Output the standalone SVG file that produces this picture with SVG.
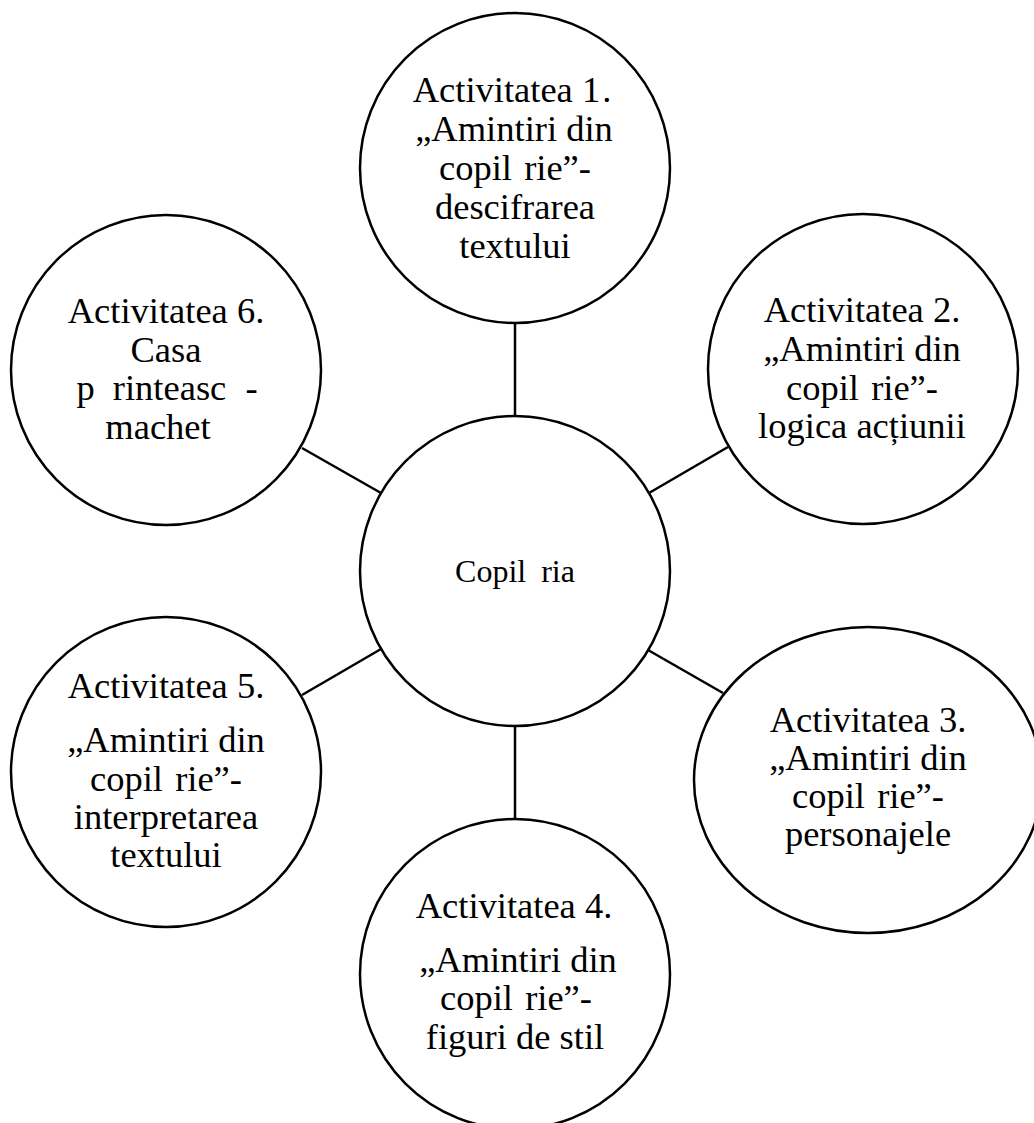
<svg xmlns="http://www.w3.org/2000/svg" width="1034" height="1123" viewBox="0 0 1034 1123">
  <style>
    .node { fill: #ffffff; stroke: #000000; stroke-width: 2.5; }
    .conn { stroke: #000000; stroke-width: 2.5; fill: none; }
    .t { font-family: "Liberation Serif", "Times New Roman", serif; font-size: 36.5px; fill: #000000; text-anchor: middle; }
    .tc { font-family: "Liberation Serif", "Times New Roman", serif; font-size: 32px; fill: #000000; text-anchor: middle; }
  </style>
  <rect x="0" y="0" width="1034" height="1123" fill="#ffffff"/>
  <g id="connectors">
    <line class="conn" x1="515" y1="323" x2="515" y2="416"/>
    <line class="conn" x1="515" y1="726" x2="515" y2="819"/>
    <line class="conn" x1="649" y1="493" x2="728" y2="447"/>
    <line class="conn" x1="648" y1="650" x2="723" y2="693"/>
    <line class="conn" x1="381" y1="649" x2="302" y2="695"/>
    <line class="conn" x1="381" y1="493" x2="302" y2="448"/>
  </g>
  <g id="center">
    <circle class="node" cx="515" cy="571" r="155"/>
    <text class="tc" x="515" y="582">Copil<tspan dx="7"> ria</tspan></text>
  </g>
  <g id="act1">
    <circle class="node" cx="515" cy="168" r="155"/>
    <text class="t" x="512" y="102">Activitatea 1<tspan dx="2">.</tspan></text>
    <text class="t" x="514" y="141">„Amintiri din</text>
    <text class="t" x="515" y="180">copil<tspan dx="3"> rie”-</tspan></text>
    <text class="t" x="515" y="219">descifrarea</text>
    <text class="t" x="515" y="258">textului</text>
  </g>
  <g id="act2">
    <circle class="node" cx="863" cy="369" r="155"/>
    <text class="t" x="862" y="322">Activitatea 2.</text>
    <text class="t" x="862" y="361">„Amintiri din</text>
    <text class="t" x="862" y="400">copil<tspan dx="3"> rie”-</tspan></text>
    <text class="t" x="862" y="438">logica acțiunii</text>
  </g>
  <g id="act3">
    <ellipse class="node" cx="868" cy="780" rx="174" ry="153"/>
    <text class="t" x="868" y="732">Activitatea 3.</text>
    <text class="t" x="868" y="770">„Amintiri din</text>
    <text class="t" x="868" y="808">copil<tspan dx="3"> rie”-</tspan></text>
    <text class="t" x="868" y="846">personajele</text>
  </g>
  <g id="act4">
    <circle class="node" cx="515" cy="974" r="155"/>
    <text class="t" x="514" y="918">Activitatea 4.</text>
    <text class="t" x="518" y="972">„Amintiri din</text>
    <text class="t" x="516" y="1010">copil<tspan dx="3"> rie”-</tspan></text>
    <text class="t" x="515" y="1049">figuri de stil</text>
  </g>
  <g id="act5">
    <circle class="node" cx="166" cy="772" r="155"/>
    <text class="t" x="166" y="698">Activitatea 5.</text>
    <text class="t" x="166" y="752">„Amintiri din</text>
    <text class="t" x="166" y="791">copil<tspan dx="3"> rie”-</tspan></text>
    <text class="t" x="166" y="829">interpretarea</text>
    <text class="t" x="166" y="867">textului</text>
  </g>
  <g id="act6">
    <circle class="node" cx="166" cy="370" r="155"/>
    <text class="t" x="166" y="323">Activitatea 6.</text>
    <text class="t" x="166" y="362">Casa</text>
    <text class="t" x="167" y="400">p<tspan dx="9"> rinteasc</tspan><tspan dx="10"> -</tspan></text>
    <text class="t" x="158" y="439">machet</text>
  </g>
</svg>
